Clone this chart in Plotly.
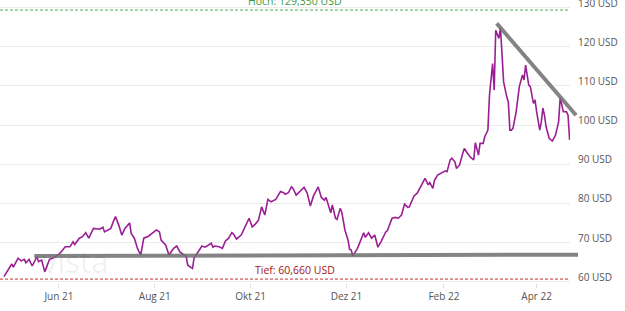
import plotly.graph_objects as go
import pandas as pd

dates = [
"2021-04-27","2021-04-29","2021-05-02","2021-05-03","2021-05-06","2021-05-08","2021-05-10","2021-05-11","2021-05-13","2021-05-15",
"2021-05-18","2021-05-19","2021-05-21","2021-05-23","2021-05-26","2021-05-28","2021-05-30","2021-06-01","2021-06-03","2021-06-05",
"2021-06-08","2021-06-10","2021-06-11","2021-06-14","2021-06-16","2021-06-18","2021-06-20","2021-06-22","2021-06-23","2021-06-27",
"2021-06-29","2021-06-30","2021-07-04","2021-07-06","2021-07-07","2021-07-09","2021-07-11","2021-07-13","2021-07-16","2021-07-17",
"2021-07-19","2021-07-21","2021-07-23","2021-07-24","2021-07-25","2021-07-28","2021-07-30","2021-08-02","2021-08-04","2021-08-05",
"2021-08-08","2021-08-09","2021-08-10","2021-08-13","2021-08-15","2021-08-17","2021-08-19","2021-08-21","2021-08-22","2021-08-25",
"2021-08-26","2021-08-28","2021-08-30","2021-08-31","2021-09-02","2021-09-04","2021-09-06","2021-09-07","2021-09-08","2021-09-11",
"2021-09-13","2021-09-15","2021-09-17","2021-09-19","2021-09-20","2021-09-22","2021-09-25","2021-09-27","2021-09-30","2021-10-02",
"2021-10-04","2021-10-06","2021-10-08","2021-10-10","2021-10-12","2021-10-14","2021-10-17","2021-10-20","2021-10-22","2021-10-23",
"2021-10-25","2021-10-27","2021-10-28","2021-10-30","2021-11-01","2021-11-04","2021-11-06","2021-11-08","2021-11-10","2021-11-11",
"2021-11-13","2021-11-15","2021-11-17","2021-11-18","2021-11-21","2021-11-22","2021-11-24","2021-11-25","2021-11-27","2021-11-28",
"2021-11-30","2021-12-02","2021-12-03","2021-12-04","2021-12-05","2021-12-08","2021-12-10","2021-12-12","2021-12-13","2021-12-15",
"2021-12-17","2021-12-19","2021-12-21","2021-12-23","2021-12-26","2021-12-27","2021-12-30","2022-01-01","2022-01-03","2022-01-05",
"2022-01-07","2022-01-09","2022-01-10","2022-01-13","2022-01-15","2022-01-17","2022-01-19","2022-01-20","2022-01-22","2022-01-23",
"2022-01-25","2022-01-26","2022-01-28","2022-01-31","2022-02-02","2022-02-03","2022-02-05","2022-02-06","2022-02-08","2022-02-09",
"2022-02-11","2022-02-13","2022-02-14","2022-02-16","2022-02-18","2022-02-20","2022-02-21","2022-02-23","2022-02-24","2022-02-26",
"2022-02-27","2022-03-01","2022-03-02","2022-03-04","2022-03-05","2022-03-06","2022-03-08","2022-03-09","2022-03-10","2022-03-11",
"2022-03-13","2022-03-14","2022-03-15","2022-03-16","2022-03-17","2022-03-19","2022-03-21","2022-03-23","2022-03-24","2022-03-25",
"2022-03-27","2022-03-28","2022-03-30","2022-03-31","2022-04-01","2022-04-03","2022-04-04","2022-04-05","2022-04-06","2022-04-07",
"2022-04-09","2022-04-11","2022-04-13","2022-04-15","2022-04-16","2022-04-18","2022-04-20","2022-04-21","2022-04-22",
]

prices = [
61.3,62.5,64.5,63.7,66.0,65.3,65.7,64.8,65.7,64.0,
66.4,65.1,65.5,62.5,65.7,66.0,66.4,67.0,67.9,68.9,
68.9,70.2,69.5,71.1,71.5,72.5,71.1,72.7,73.6,73.4,
73.9,72.7,73.6,75.7,76.6,74.5,71.9,73.6,75.0,72.3,
71.1,68.5,66.8,68.9,71.1,71.6,72.3,73.2,72.7,70.6,
69.3,68.1,66.8,68.5,69.1,67.6,67.0,66.4,64.2,63.4,
66.0,67.2,68.5,69.1,68.8,69.4,69.8,68.8,69.1,68.9,
68.5,70.4,71.1,72.5,72.2,70.9,71.9,73.6,76.2,74.0,
74.7,75.7,79.1,77.0,81.0,80.4,81.0,83.0,82.7,82.3,
82.7,84.2,83.8,82.1,83.0,84.1,82.6,79.3,81.9,82.6,
84.2,81.5,80.8,81.5,77.6,79.6,76.2,75.9,78.7,77.8,
73.2,70.6,68.3,68.1,66.6,68.5,70.6,72.5,71.3,72.5,
71.1,71.9,68.8,70.2,72.7,73.0,76.2,76.4,76.2,77.0,
79.8,79.0,79.1,81.9,82.6,84.2,85.9,86.4,84.7,85.3,
83.8,85.9,87.2,87.8,88.3,88.1,91.1,91.5,90.6,88.9,
89.8,92.8,94.0,92.8,91.7,91.1,95.5,92.3,95.3,95.3,
97.0,98.7,107.6,115.7,108.9,124.2,122.1,124.8,117.9,111.0,
107.2,105.9,98.7,98.7,99.2,103.4,109.8,112.8,111.5,115.3,
110.2,109.8,105.5,106.4,103.4,98.7,100.8,104.3,102.5,99.6,
96.6,95.9,97.4,100.8,107.0,103.4,103.4,102.5,96.2,
]

high_value = 129.35
low_value = 60.66
high_label = "Hoch: 129,350 USD"
low_label = "Tief: 60,660 USD"

y_ticks = [60, 70, 80, 90, 100, 110, 120, 130]
y_tick_labels = ["60 USD", "70 USD", "80 USD", "90 USD", "100 USD", "110 USD", "120 USD", "130 USD"]
x_ticks = ["2021-06-01", "2021-08-01", "2021-10-01", "2021-12-01", "2022-02-01", "2022-04-01"]
x_tick_labels = ["Jun 21", "Aug 21", "Okt 21", "Dez 21", "Feb 22", "Apr 22"]

# trend lines (date, value) endpoints
support_line = [("2021-05-16 08:00", 66.55), ("2022-04-27 08:00", 66.9)]
resistance_line = [("2022-03-06 14:00", 125.95), ("2022-04-26 03:00", 102.5)]

x_range = ["2021-04-24 12:00", "2022-04-22 06:00"]
y_range = [59.66, 131.915]

x0 = pd.Timestamp(x_range[0]); x1 = pd.Timestamp(x_range[1])

def xp(d):
    return (pd.Timestamp(d) - x0) / (x1 - x0)

def yp(v):
    return (v - y_range[0]) / (y_range[1] - y_range[0])

fig = go.Figure()
fig.add_trace(go.Scatter(
    x=dates, y=prices, mode="lines",
    line=dict(color="#9b1f94", width=1.6),
    hoverinfo="x+y", showlegend=False,
))

shapes = [
    dict(type="line", xref="paper", yref="y", x0=0, x1=1, y0=high_value, y1=high_value,
         line=dict(color="#4cae4c", width=1, dash="3px,2px"), layer="above"),
    dict(type="line", xref="paper", yref="y", x0=0, x1=1, y0=low_value, y1=low_value,
         line=dict(color="#c9302c", width=1, dash="3px,2px"), layer="above"),
]
for seg in (support_line, resistance_line):
    (d0, v0), (d1, v1) = seg
    shapes.append(dict(type="line", xref="paper", yref="paper",
                       x0=xp(d0), y0=yp(v0), x1=xp(d1), y1=yp(v1),
                       line=dict(color="rgba(110,110,110,0.85)", width=4), layer="above"))

annotations = [
    dict(text=high_label, xref="paper", yref="y", x=0.518, y=high_value,
         xanchor="center", yanchor="bottom", showarrow=False,
         font=dict(color="#3d9a3d", size=10.5)),
    dict(text=low_label, xref="paper", yref="y", x=0.518, y=low_value,
         xanchor="center", yanchor="bottom", showarrow=False,
         font=dict(color="#a31515", size=10.5)),
    dict(text="vista", xref="paper", yref="y", x=0.07, y=65.2,
         xanchor="left", yanchor="middle", showarrow=False,
         font=dict(color="rgba(0,0,0,0.06)", size=31, family="Open Sans")),
]
# y-axis labels (drawn slightly above their gridlines, as in the original)
for v, lab in zip(y_ticks, y_tick_labels):
    annotations.append(dict(text=lab, xref="paper", yref="y", x=1, y=v,
                            xanchor="left", yanchor="middle", xshift=6, yshift=5,
                            showarrow=False, font=dict(size=10, color="#555555")))

fig.update_layout(
    width=625, height=311,
    margin=dict(l=0, r=55, t=0, b=28),
    paper_bgcolor="white", plot_bgcolor="white",
    font=dict(family="Open Sans", size=10, color="#555555"),
    shapes=shapes,
    annotations=annotations,
    xaxis=dict(
        type="date", range=x_range,
        tickvals=x_ticks, ticktext=x_tick_labels,
        showgrid=False, zeroline=False, showline=False,
        ticks="outside", ticklen=4, tickcolor="#dddddd",
        tickfont=dict(size=10, color="#555555"),
    ),
    yaxis=dict(
        side="right", range=y_range,
        tickvals=y_ticks, showticklabels=False,
        showgrid=True, gridcolor="#ebebeb", gridwidth=1,
        zeroline=False, showline=False, ticks="",
    ),
)

fig.write_html("out.html")
